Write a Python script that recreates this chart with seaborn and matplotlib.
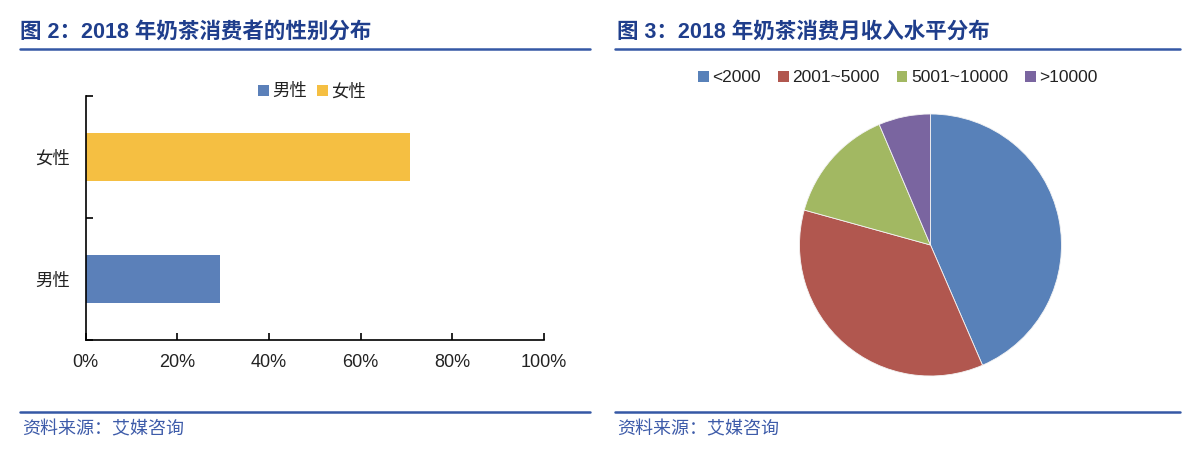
import matplotlib
matplotlib.use("Agg")
import matplotlib.pyplot as plt
import seaborn as sns
import pandas as pd
from matplotlib.lines import Line2D
from matplotlib.patches import Patch
from matplotlib.ticker import FixedLocator, PercentFormatter

# ---- data ----
gender_categories = ["女性", "男性"]
gender_share = [70.7, 29.3]
gender_legend_order = ["男性", "女性"]

income_categories = ["<2000", "2001~5000", "5001~10000", ">10000"]
income_share = [43.5, 35.8, 14.3, 6.4]

x_ticks = [0, 20, 40, 60, 80, 100]

title_left = "图 2：2018 年奶茶消费者的性别分布"
title_right = "图 3：2018 年奶茶消费月收入水平分布"
source_text = "资料来源：艾媒咨询"

# ---- style ----
sns.set_style("white")
plt.rcParams["font.family"] = ["Liberation Sans", "Noto Sans CJK SC", "DejaVu Sans"]

gender_colors = {"男性": "#5B80B9", "女性": "#F5BF42"}
income_colors = ["#5881B9", "#B1574F", "#A2B862", "#7A65A0"]
title_color = "#1F3E8C"
line_color = "#3558A5"

fig = plt.figure(figsize=(12, 4.74), dpi=100)

# ---- left: bar chart ----
axL = fig.add_axes([85.7 / 1200, 1 - 340 / 474, (544 - 85.7) / 1200, (340 - 96) / 474])
df = pd.DataFrame({"性别": gender_categories, "占比": gender_share})
sns.barplot(data=df, x="占比", y="性别", hue="性别", palette=gender_colors,
            order=gender_categories, width=0.4, legend=False, ax=axL,
            saturation=1, edgecolor="none")
axL.set_xlim(0, 100)
axL.set_ylim(1.5, -0.5)
axL.set_xlabel("")
axL.set_ylabel("")
axL.xaxis.set_major_locator(FixedLocator(x_ticks))
axL.xaxis.set_major_formatter(PercentFormatter(decimals=0))
for s in ["top", "right"]:
    axL.spines[s].set_visible(False)
for s in ["left", "bottom"]:
    axL.spines[s].set_color("#000000")
    axL.spines[s].set_linewidth(1.2)
axL.tick_params(axis="x", bottom=True, direction="in", length=5, width=1.2, color="#000000",
                labelsize=13, pad=10, labelcolor="#222222")
axL.tick_params(axis="y", which="major", left=True, length=0, labelsize=12.5, pad=11,
                labelcolor="#222222")
axL.yaxis.set_minor_locator(FixedLocator([-0.5, 0.5, 1.5]))
axL.tick_params(axis="y", which="minor", left=True, direction="in", length=5, width=1.2,
                color="#000000")
handlesL = [Patch(facecolor=gender_colors[g], edgecolor="none") for g in gender_legend_order]
fig.legend(handlesL, gender_legend_order, loc="center", bbox_to_anchor=(312 / 1200, 1 - 91 / 474),
           ncol=2, frameon=False, fontsize=12.5, handlelength=0.6, handleheight=0.6,
           handletextpad=0.2, columnspacing=0.6, labelcolor="#222222")

# ---- right: pie chart ----
r = 131
cx, cy = 930.5, 245
axR = fig.add_axes([(cx - r) / 1200, 1 - (cy + r) / 474, 2 * r / 1200, 2 * r / 474])
axR.pie(income_share, colors=income_colors, startangle=90, counterclock=False,
        radius=1, wedgeprops=dict(linewidth=0.6, edgecolor="#f4f4f4"))
axR.set_xlim(-1, 1)
axR.set_ylim(-1, 1)
axR.set_axis_off()
handlesR = [Patch(facecolor=c, edgecolor="none") for c in income_colors]
fig.legend(handlesR, income_categories, loc="center", bbox_to_anchor=(898 / 1200, 1 - 78 / 474),
           ncol=4, frameon=False, fontsize=12.5, handlelength=0.6, handleheight=0.6,
           handletextpad=0.2, columnspacing=1.0, labelcolor="#222222")

# ---- titles, rules, sources ----
fig.text(20 / 1200, 1 - 32 / 474, title_left, fontsize=15.5, fontweight="bold",
         color=title_color, va="center", ha="left")
fig.text(617 / 1200, 1 - 32 / 474, title_right, fontsize=15.5, fontweight="bold",
         color=title_color, va="center", ha="left")
for x0, x1 in [(20, 590), (615, 1180)]:
    for y in [49, 412]:
        fig.add_artist(Line2D([x0 / 1200, x1 / 1200], [1 - y / 474, 1 - y / 474],
                              color=line_color, linewidth=1.8, transform=fig.transFigure))
fig.text(22 / 1200, 1 - 430 / 474, source_text, fontsize=13, color="#3D5BA9",
         va="center", ha="left", style="italic")
fig.text(617 / 1200, 1 - 430 / 474, source_text, fontsize=13, color="#3D5BA9",
         va="center", ha="left", style="italic")

fig.savefig("out.png", dpi=100, facecolor="white")
